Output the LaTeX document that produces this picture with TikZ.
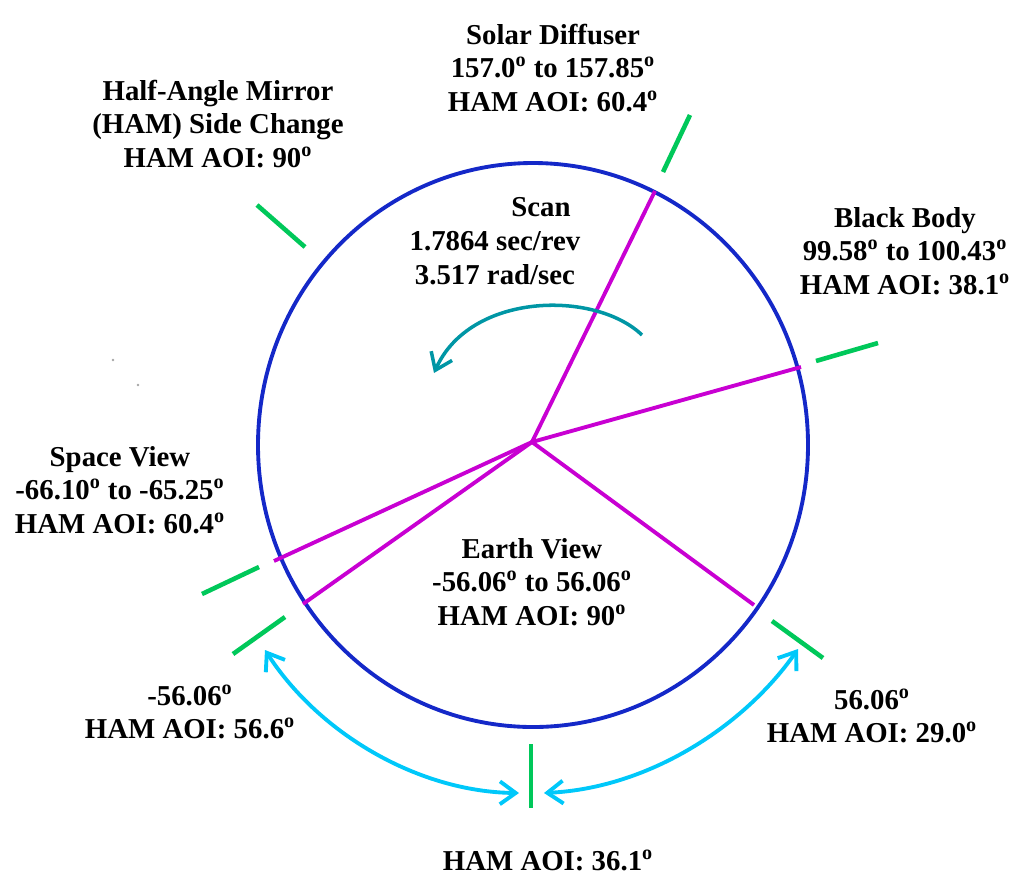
\documentclass[tikz,border=0pt]{standalone}
\usepackage{fontspec}
\setmainfont{Liberation Serif}
\usetikzlibrary{arrows.meta}
\definecolor{ringblue}{RGB}{20,40,200}
\definecolor{magline}{RGB}{200,0,210}
\definecolor{tickgreen}{RGB}{0,200,90}
\definecolor{scanteal}{RGB}{0,150,165}
\definecolor{arccyan}{RGB}{0,200,250}
\newcommand{\dg}{\textsuperscript{o}}
\tikzset{
  lbl/.style={font=\fontsize{16.4}{19}\selectfont\bfseries, align=center, inner sep=0pt, text=black},
  magseg/.style={draw=magline, line width=2.2pt},
  tick/.style={draw=tickgreen, line width=2.6pt},
  ring/.style={draw=ringblue, line width=2.2pt},
  scanarrow/.style={draw=scanteal, line width=2pt, -{Straight Barb[length=9pt,width=13pt,line width=2pt]}},
  swing/.style={draw=arccyan, line width=2.2pt, {Straight Barb[length=9pt,width=13pt,line width=2.2pt]}-{Straight Barb[length=9pt,width=13pt,line width=2.2pt]}}
}
\begin{document}
\begin{tikzpicture}[x=0.02cm,y=-0.02cm]
\useasboundingbox (0,0) rectangle (1024,890);
% ring
\draw[ring] (533,445) ellipse [x radius=275, y radius=282];
% center and ends of magenta spokes
\coordinate (c) at (532,442);
\coordinate (sd) at (655,191);
\coordinate (bb) at (801,367);
\coordinate (evr) at (754,605);
\coordinate (evl) at (303,604);
\coordinate (sv) at (274,561);
\draw[magseg] (c) -- (sd);
\draw[magseg] (c) -- (bb);
\draw[magseg] (c) -- (evr);
\draw[magseg] (c) -- (evl);
\draw[magseg] (c) -- (sv);
% green ticks
\coordinate (t1a) at (690,115); \coordinate (t1b) at (663,172);
\coordinate (t2a) at (816,361); \coordinate (t2b) at (878,343);
\coordinate (t3a) at (772,621); \coordinate (t3b) at (823,658);
\coordinate (t4a) at (531,744); \coordinate (t4b) at (531,808);
\coordinate (t5a) at (285,617); \coordinate (t5b) at (233,654);
\coordinate (t6a) at (259,567); \coordinate (t6b) at (202,594);
\coordinate (t7a) at (257,205); \coordinate (t7b) at (305,247);
\foreach \i in {1,...,7}{\draw[tick] (t\i a) -- (t\i b);}
% scan arrow
\coordinate (sa0) at (642,335);
\coordinate (sa1) at (434,373);
\draw[scanarrow] (sa0) .. controls (595,290) and (470,292) .. (sa1);
% swing arrows
\coordinate (la) at (265,650);
\coordinate (lb) at (519,793);
\coordinate (ra) at (544,793);
\coordinate (rb) at (798,649);
\draw[swing] (la) .. controls (320,735) and (420,792) .. (lb);
\draw[swing] (ra) .. controls (650,788) and (745,725) .. (rb);
% stray dots
\fill[gray!70] (113,360) circle [radius=1.3];
\fill[gray!70] (138,385) circle [radius=1.3];
% labels
\node[lbl] (solar) at (553,68) {Solar Diffuser\\157.0\dg{} to 157.85\dg\\HAM AOI: 60.4\dg};
\node[lbl] (ham) at (218,124) {Half-Angle Mirror\\(HAM) Side Change\\HAM AOI: 90\dg};
\node[lbl] (scant) at (541,207) {Scan};
\node[lbl] (scanr) at (495,258) {1.7864 sec/rev\\3.517 rad/sec};
\node[lbl] (black) at (905,251) {Black Body\\99.58\dg{} to 100.43\dg\\HAM AOI: 38.1\dg};
\node[lbl] (space) at (120,490) {Space View\\-66.10\dg{} to -65.25\dg\\HAM AOI: 60.4\dg};
\node[lbl] (earth) at (532,582) {Earth View\\-56.06\dg{} to 56.06\dg\\HAM AOI: 90\dg};
\node[lbl] (neg) at (190,712) {-56.06\dg\\HAM AOI: 56.6\dg};
\node[lbl] (pos) at (872,716) {56.06\dg\\HAM AOI: 29.0\dg};
\node[lbl] (bot) at (548,860) {HAM AOI: 36.1\dg};
\end{tikzpicture}
\end{document}
